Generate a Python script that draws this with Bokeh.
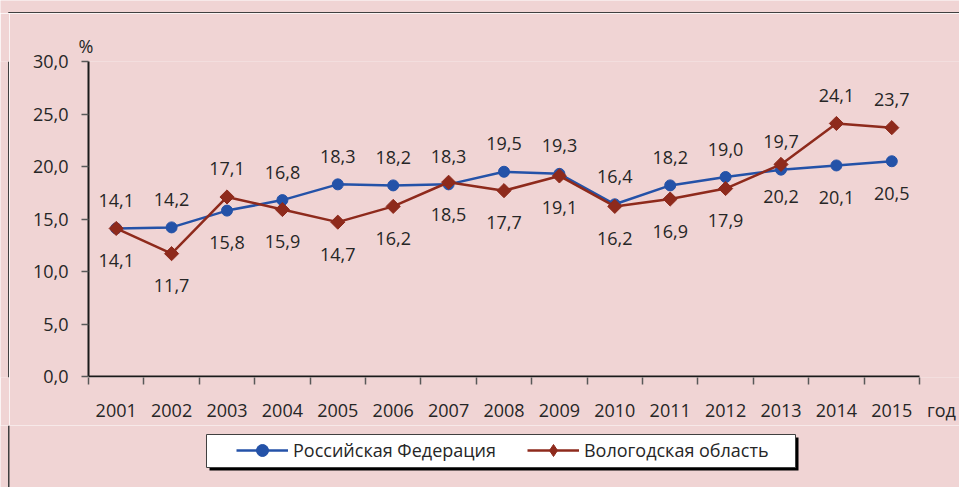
from bokeh.plotting import figure
from bokeh.models import FixedTicker, Legend, LegendItem, ColumnDataSource, Range1d
from bokeh.layouts import column, row
from bokeh.embed import file_html
from bokeh.resources import INLINE
from bokeh.core.properties import value
import math

# ---- data ----
years = [2001, 2002, 2003, 2004, 2005, 2006, 2007, 2008, 2009, 2010, 2011, 2012, 2013, 2014, 2015]
year_labels = ["2001", "2002", "2003", "2004", "2005", "2006", "2007", "2008",
               "2009", "2010", "2011", "2012", "2013", "2014", "2015"]
russia = [14.1, 14.2, 15.8, 16.8, 18.3, 18.2, 18.3, 19.5, 19.3, 16.4, 18.2, 19.0, 19.7, 20.1, 20.5]
vologda = [14.1, 11.7, 17.1, 15.9, 14.7, 16.2, 18.5, 17.7, 19.1, 16.2, 16.9, 17.9, 20.2, 24.1, 23.7]
series_names = ["Российская Федерация", "Вологодская область"]
y_ticks = [0, 5, 10, 15, 20, 25, 30]
y_tick_labels = ["0,0", "5,0", "10,0", "15,0", "20,0", "25,0", "30,0"]
y_unit = "%"
x_unit = "год"

# ---- style ----
BG = "#F0D4D4"
BLUE = "#2452A8"
RED = "#8E2A1C"
TXT = "#262626"
EDGE = "#404040"
FONT = "Open Sans"
FS = "18px"

PAGE_W, PAGE_H = 959, 487
TOP_H, LEFT_W = 13, 9          # strips carrying the outer border
MAIN_H = 412
LEG_H = PAGE_H - TOP_H - MAIN_H
# plot-area geometry in page pixels
AX_L, AX_R, AX_TOP, AX_Y0, FR_BOTTOM = 88, 919, 61, 376, 377


def strip(w, h):
    f = figure(width=w, height=h, output_backend="svg", toolbar_location=None,
               x_range=Range1d(0, w), y_range=Range1d(h, 0),
               x_axis_location=None, y_axis_location=None, min_border=0,
               background_fill_color=BG, border_fill_color=BG, outline_line_color=None)
    f.xgrid.visible = False
    f.ygrid.visible = False
    return f


# ---- outer border strips ----
top = strip(PAGE_W, TOP_H)
top.segment(x0=[8], y0=[12.25], x1=[PAGE_W], y1=[12.25], line_color=EDGE, line_width=1.5)
top.segment(x0=[8.25], y0=[12], x1=[8.25], y1=[TOP_H], line_color=EDGE, line_width=1.5)
left = strip(LEFT_W, MAIN_H)
left.segment(x0=[8.25], y0=[0], x1=[8.25], y1=[MAIN_H], line_color=EDGE, line_width=1.5)

# ---- main plot ----
MAIN_W = PAGE_W - LEFT_W
ppy = (AX_R - AX_L) / len(years)            # pixels per year
ppu = (AX_Y0 - AX_TOP) / (y_ticks[-1] - y_ticks[0])
x0 = years[0] - 0.5
x1 = years[-1] + 0.5
x_end = x0 + (PAGE_W - AX_L) / ppy
y_start = y_ticks[0] - (FR_BOTTOM - AX_Y0) / ppu

p = figure(width=MAIN_W, height=MAIN_H, output_backend="svg", toolbar_location=None,
           x_range=Range1d(x0, x_end), y_range=Range1d(y_start, y_ticks[-1]),
           min_border_left=AX_L - LEFT_W, min_border_right=0,
           min_border_top=AX_TOP - TOP_H, min_border_bottom=MAIN_H - (FR_BOTTOM - TOP_H),
           background_fill_color=BG, border_fill_color=BG, outline_line_color=None,
           title=y_unit)
p.xgrid.visible = False
p.ygrid.visible = False

p.title.align = "left"
p.title.offset = -10
p.title.standoff = 8
p.title.text_font = FONT
p.title.text_font_size = FS
p.title.text_font_style = "normal"
p.title.text_color = TXT

unit_x = x1 + 22 / ppy
xa = p.xaxis[0]
xa.ticker = FixedTicker(ticks=years + [unit_x],
                        minor_ticks=[y - 0.5 for y in years] + [x1])
overrides = {y: l for y, l in zip(years, year_labels)}
overrides[unit_x] = x_unit
xa.major_label_overrides = overrides
xa.major_tick_out = 0
xa.major_tick_in = 0
xa.minor_tick_out = 7
xa.minor_tick_in = 0
xa.minor_tick_line_color = "#595959"
xa.minor_tick_line_width = 1.5
xa.axis_line_color = None
xa.major_label_text_font = FONT
xa.major_label_text_font_size = FS
xa.major_label_text_color = TXT
xa.major_label_standoff = 13

ya = p.yaxis[0]
ya.bounds = (y_ticks[0], y_ticks[-1])
ya.ticker = FixedTicker(ticks=y_ticks, minor_ticks=[])
ya.major_label_overrides = {t: l for t, l in zip(y_ticks, y_tick_labels)}
ya.major_tick_out = 7
ya.major_tick_in = 0
ya.major_tick_line_color = "#595959"
ya.major_tick_line_width = 1.5
ya.minor_tick_out = 0
ya.minor_tick_in = 0
ya.axis_line_color = "#1a1a1a"
ya.axis_line_width = 2
ya.major_label_text_font = FONT
ya.major_label_text_font_size = FS
ya.major_label_text_color = TXT
ya.major_label_standoff = 13

# x axis line at y = 0, across the categories only
p.segment(x0=[x0], y0=[y_ticks[0]], x1=[x1], y1=[y_ticks[0]], line_color="#1a1a1a", line_width=2)

# ---- series ----
src = ColumnDataSource(dict(x=years, ru=russia, vo=vologda))
p.line("x", "ru", source=src, line_color=BLUE, line_width=2.5)
p.scatter("x", "ru", source=src, marker="circle", size=11, color=BLUE)
p.line("x", "vo", source=src, line_color=RED, line_width=2.5)
p.scatter("x", "vo", source=src, marker="square", angle=math.pi / 4, size=10, color=RED)

# ---- data labels ----
def fmt(v):
    return f"{v:.1f}".replace(".", ",")

UP, DOWN = -28, 32
red_above = [v - r > 1 for r, v in zip(russia, vologda)]
lab = ColumnDataSource(dict(
    x=years + years,
    y=russia + vologda,
    t=[fmt(v) for v in russia] + [fmt(v) for v in vologda],
    off=[DOWN if a else UP for a in red_above] + [UP if a else DOWN for a in red_above],
))
p.text("x", "y", text="t", source=lab, y_offset="off", text_align="center",
       text_baseline="middle", text_font=value(FONT), text_font_size=FS, text_color=TXT)

# ---- legend strip ----
lg = strip(PAGE_W, LEG_H)
lg.segment(x0=[8.25], y0=[0], x1=[8.25], y1=[LEG_H], line_color=EDGE, line_width=1.5)
oy = TOP_H + MAIN_H
lg.quad(left=[209], right=[798], top=[437 - oy], bottom=[470 - oy], fill_color="black",
        line_color=None)
lg.quad(left=[206], right=[795], top=[434 - oy], bottom=[467 - oy], fill_color="white",
        line_color=EDGE, line_width=1)
# legend-only renderers: the series' own data, which falls outside this strip's range
r1l = lg.line("x", "ru", source=src, line_color=BLUE, line_width=2.5)
r1m = lg.scatter("x", "ru", source=src, marker="circle", size=11, color=BLUE)
r2l = lg.line("x", "vo", source=src, line_color=RED, line_width=2.5)
r2m = lg.scatter("x", "vo", source=src, marker="diamond", size=14, color=RED)
legend = Legend(items=[LegendItem(label=series_names[0], renderers=[r1l, r1m]),
                       LegendItem(label=series_names[1], renderers=[r2l, r2m])],
                location=(236, 22), orientation="horizontal",
                glyph_width=52, glyph_height=30, label_height=20, label_standoff=5,
                spacing=31, padding=0, margin=0,
                background_fill_alpha=0, border_line_color=None,
                label_text_font=FONT, label_text_font_size=FS, label_text_color=TXT)
lg.add_layout(legend)

layout = column(top, row(left, p), lg)
open("out.html", "w").write(file_html(layout, INLINE))
